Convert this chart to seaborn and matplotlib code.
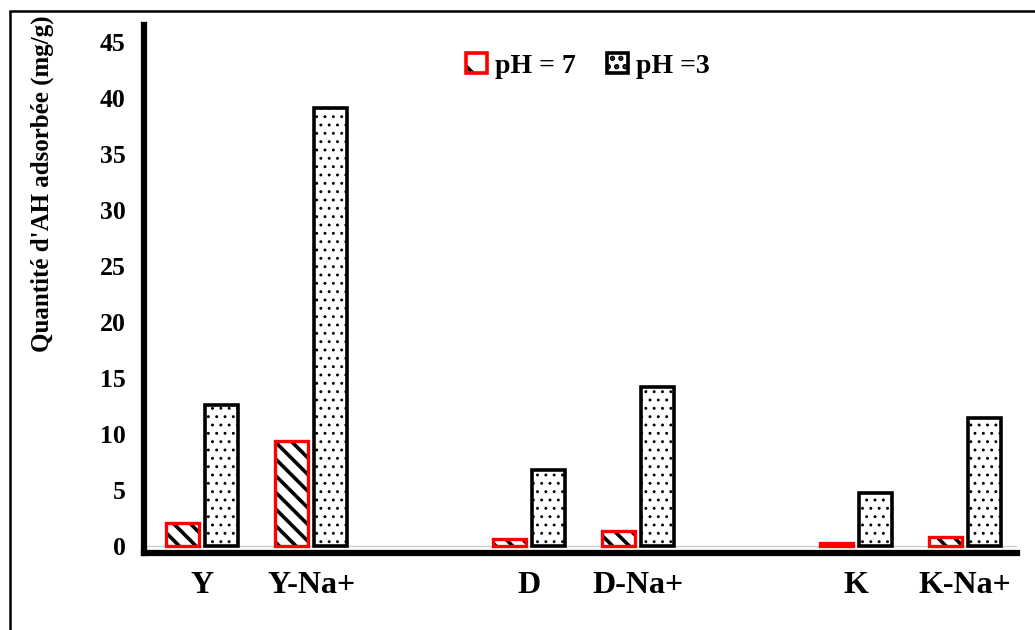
import pandas as pd
import matplotlib
matplotlib.use("Agg")
import matplotlib.pyplot as plt
import seaborn as sns
from matplotlib.patches import Patch, Rectangle
from matplotlib.legend_handler import HandlerTuple

# data
samples = ["Y", "Y-Na+", "D", "D-Na+", "K", "K-Na+"]
slots = ["Y", "Y-Na+", "gap1", "D", "D-Na+", "gap2", "K", "K-Na+"]
tick_labels = ["Y", "Y-Na+", "", "D", "D-Na+", "", "K", "K-Na+"]
conditions = ["pH = 7", "pH =3"]
ph7 = [2.05, 9.4, 0.6, 1.3, 0.25, 0.8]
ph3 = [12.6, 39.1, 6.8, 14.2, 4.75, 11.4]

df = pd.DataFrame({
    "sample": samples * 2,
    "condition": [conditions[0]] * len(samples) + [conditions[1]] * len(samples),
    "value": ph7 + ph3,
})

sns.set_style("white")
plt.rcParams["font.family"] = ["Liberation Serif", "DejaVu Serif"]
plt.rcParams["font.weight"] = "bold"
for key in ["text.color", "axes.labelcolor", "xtick.color", "ytick.color"]:
    plt.rcParams[key] = "black"
plt.rcParams["hatch.linewidth"] = 0.9

fig = plt.figure(figsize=(10.35, 6.3), dpi=100)
ax = fig.add_axes([0.1387, 0.123, 0.844, 0.8373])

sns.barplot(data=df, x="sample", y="value", hue="condition", order=slots,
            hue_order=conditions, palette=["white", "white"], width=0.72,
            gap=0.15, errorbar=None, legend=False, ax=ax)

# pH = 3 : black edge, dots
for p in ax.containers[1]:
    p.set_edgecolor("black")
    p.set_linewidth(2.6)
    p.set_hatch("..")

# pH = 7 : black diagonal stripes inside a red outline
plt.rcParams["hatch.linewidth"] = 2.6
for p in ax.containers[0]:
    p.set_visible(False)
    x0, y0 = p.get_xy()
    w, h = p.get_width(), p.get_height()
    ax.add_patch(Rectangle((x0, y0), w, h, facecolor="white", edgecolor="black",
                           linewidth=0, hatch="\\\\", zorder=2))
    ax.add_patch(Rectangle((x0, y0), w, h, fill=False, edgecolor="red",
                           linewidth=2.4, zorder=3))

ax.axhline(0, color="#d0d0d0", lw=1, zorder=0)
ax.set_xlim(-0.537, 7.477)
ax.set_ylim(-0.58, 46.52)
ax.set_yticks(range(0, 50, 5))
ax.set_xticks(range(len(slots)))
ax.set_xticklabels(tick_labels, fontsize=23, fontweight="bold")
ax.tick_params(axis="y", length=0, pad=13, labelsize=18.5)
ax.tick_params(axis="x", length=0, pad=13)
for lab in ax.get_yticklabels():
    lab.set_fontweight("bold")

ax.set_xlabel("")
ax.set_ylabel("Quantité d'AH adsorbée (mg/g)", fontsize=18, fontweight="bold")
ax.yaxis.set_label_coords(-0.102, 0.70)

for side in ["top", "right"]:
    ax.spines[side].set_visible(False)
for side in ["left", "bottom"]:
    ax.spines[side].set_linewidth(4.5)
    ax.spines[side].set_color("black")

h7 = (Patch(facecolor="white", edgecolor="black", linewidth=0, hatch="\\"),
      Patch(fill=False, edgecolor="red", linewidth=2.6))
h3 = Patch(facecolor="white", edgecolor="black", linewidth=2.6, hatch="..")
ax.legend(handles=[h7, h3], labels=conditions, loc="center",
          bbox_to_anchor=(588 / 1035, 1 - 66 / 630), bbox_transform=fig.transFigure,
          ncol=2, frameon=False, handlelength=0.75, handleheight=0.75,
          handletextpad=0.3, columnspacing=1.1,
          handler_map={tuple: HandlerTuple(ndivide=1, pad=0)},
          prop={"family": "Liberation Serif", "weight": "bold", "size": 20})

# outer frame (only top and left visible in the source image)
fig.patches.append(Rectangle((10 / 1035, -0.1), 1.2, 1.1 - 11 / 630,
                             transform=fig.transFigure, fill=False,
                             edgecolor="black", linewidth=1.8))

fig.savefig("out.png", dpi=100)
